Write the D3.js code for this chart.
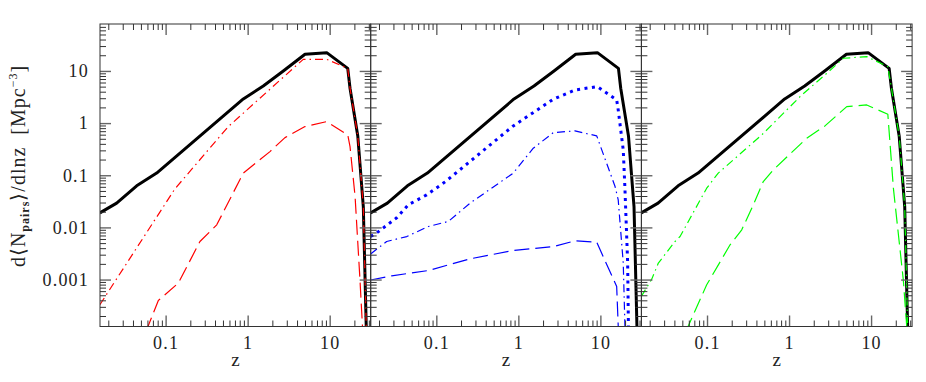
<!DOCTYPE html>
<html lang="en">
<head>
<meta charset="UTF-8">
<title>Pair counts per dlnz</title>
<script src="https://cdnjs.cloudflare.com/ajax/libs/d3/7.8.5/d3.min.js"></script>
<style>
    body { margin: 0; background: #fff; }
    svg text { font-family: "Liberation Serif", "Times New Roman", serif; fill: #222; }
</style>
</head>
<body>
<div id="chart"></div>
<script>
// values (z, d<Npairs>/dlnz)
const zTotal = [0.0158, 0.0253, 0.0444, 0.0778, 0.885, 1.55, 2.72, 5.0, 9.2, 16.6, 17.7, 22.0, 25.7, 28.0];
const nTotal = [0.019, 0.0292, 0.0627, 0.110, 2.90, 5.15, 10, 20.9, 22.4, 11.2, 4.66, 0.568, 0.0251, 0.0001];

const zRedDashDot = [0.0158, 0.130, 0.581, 4.76, 9.2, 16.6, 17.7, 22.0, 25.7, 28.0];
const nRedDashDot = [0.00033, 0.055, 0.857, 16.7, 16.7, 11.2, 4.66, 0.568, 0.0251, 0.0001];
const zRedDash = [0.0575, 0.0815, 0.143, 0.262, 0.420, 0.885, 1.87, 2.85, 5.0, 9.2, 16.6, 17.7, 20.4, 23.4, 25.3];
const nRedDash = [0.0001, 0.000397, 0.000857, 0.00537, 0.0112, 0.110, 0.284, 0.527, 0.857, 1.07, 0.594, 0.354, 0.0391, 0.00099, 0.0001];

const zBlueDot = [0.0158, 0.0188, 0.0329, 0.0455, 0.0763, 0.128, 0.867, 2.67, 4.91, 9.17, 15.8, 16.5, 19.0, 19.9, 21.5, 22.0];
const nBlueDot = [0.0067, 0.00787, 0.0153, 0.0271, 0.0421, 0.0747, 0.883, 2.87, 4.32, 5.0, 2.78, 1.79, 0.306, 0.0573, 0.0021, 0.0001];
const zBlueDashDot = [0.0158, 0.0248, 0.0436, 0.0798, 0.140, 0.258, 0.867, 1.52, 2.67, 4.91, 9.02, 15.1, 16.5, 19.0, 20.0];
const nBlueDashDot = [0.0031, 0.00537, 0.00668, 0.0104, 0.0130, 0.0292, 0.110, 0.330, 0.657, 0.708, 0.568, 0.0607, 0.0337, 0.00207, 0.0001];
const zBlueDash = [0.0158, 0.0286, 0.0798, 0.258, 0.867, 2.67, 4.91, 9.02, 12.5, 15.8, 16.6];
const nBlueDash = [0.00098, 0.00118, 0.00149, 0.0025, 0.0036, 0.0043, 0.00553, 0.00522, 0.00166, 0.000736, 0.0001];

const zGreenDashDot = [0.0158, 0.0212, 0.0255, 0.0407, 0.0469, 0.0592, 0.0991, 0.137, 0.465, 1.43, 2.74, 4.58, 8.85, 16.0, 17.7, 22.0, 25.7, 28.0];
const nGreenDashDot = [0.000474, 0.00102, 0.00207, 0.00537, 0.00668, 0.0130, 0.0565, 0.110, 0.594, 3.47, 8.37, 17.5, 18.8, 12.1, 4.66, 0.568, 0.0251, 0.0001];
const zGreenDash = [0.055, 0.0991, 0.191, 0.265, 0.367, 0.485, 0.643, 1.64, 2.74, 5.05, 8.85, 16.0, 18.7, 24.7, 27.5];
const nGreenDash = [0.0001, 0.000794, 0.00464, 0.0090, 0.0271, 0.0757, 0.127, 0.513, 0.883, 2.07, 2.23, 1.48, 0.0565, 0.00099, 0.0001];

const xTickLabels = ["0.1", "1", "10"];
const yTickLabels = ["10", "1", "0.1", "0.01", "0.001"];

const width = 926, height = 382;
const marginLeft = 100, marginTop = 24;
const panelW = 270.7, panelH = 302.5;
const majorLen = 11, minorLen = 6;

const pairs = (zs, ns) => zs.map((z, i) => [z, ns[i]]);

const panels = [
    [
        { data: pairs(zTotal, nTotal), color: "#000", width: 3, dash: null },
        { data: pairs(zRedDashDot, nRedDashDot), color: "#ff0000", width: 1.2, dash: "8,4,1.5,4" },
        { data: pairs(zRedDash, nRedDash), color: "#ff0000", width: 1.2, dash: "15,6" }
    ],
    [
        { data: pairs(zTotal, nTotal), color: "#000", width: 3, dash: null },
        { data: pairs(zBlueDot, nBlueDot), color: "#0000ff", width: 3, dash: "3,4.5" },
        { data: pairs(zBlueDashDot, nBlueDashDot), color: "#0000ff", width: 1.2, dash: "8,4,1.5,4" },
        { data: pairs(zBlueDash, nBlueDash), color: "#0000ff", width: 1.2, dash: "15,6" }
    ],
    [
        { data: pairs(zTotal, nTotal), color: "#000", width: 3, dash: null },
        { data: pairs(zGreenDashDot, nGreenDashDot), color: "#00ff00", width: 1.2, dash: "8,4,1.5,4" },
        { data: pairs(zGreenDash, nGreenDash), color: "#00ff00", width: 1.2, dash: "15,6" }
    ]
];

const x = d3.scaleLog().domain([Math.pow(10, -1.8), Math.pow(10, 1.5)]).range([0, panelW]);
const y = d3.scaleLog().domain([Math.pow(10, -3.9), Math.pow(10, 1.9)]).range([panelH, 0]);

// minor tick values (2..9 per decade) inside the domains
const minorVals = (lo, hi, dom) => {
    const out = [];
    for (let e = lo; e <= hi; e++)
        for (let m = 2; m <= 9; m++) {
            const v = m * Math.pow(10, e);
            if (v > dom[0] && v < dom[1]) out.push(v);
        }
    return out;
};
const xMinor = minorVals(-2, 1, x.domain());
const yMinor = minorVals(-4, 1, y.domain());
const xMajor = xTickLabels.map(Number);
const yMajor = yTickLabels.map(Number).concat([0.0001]).filter(v => v > y.domain()[0]);

const svg = d3.select("#chart").append("svg")
    .attr("width", width)
    .attr("height", height);

const line = d3.line().x(d => x(d[0])).y(d => y(d[1]));

function styleAxis(g, major) {
    g.select(".domain").remove();
    g.selectAll(".tick line")
        .attr("stroke", major ? "#666" : "#333")
        .attr("stroke-width", major ? 1.4 : 1);
}

function styleLabels(g) {
    g.selectAll("text")
        .attr("font-family", "Liberation Serif, serif")
        .attr("font-size", 18)
        .attr("letter-spacing", 1.2)
        .attr("fill", "#222");
}

panels.forEach((series, i) => {
    const g = svg.append("g")
        .attr("transform", `translate(${marginLeft + i * panelW},${marginTop})`);

    g.append("clipPath").attr("id", "clip" + i)
        .append("rect").attr("width", panelW).attr("height", panelH);

    const curves = g.append("g").attr("clip-path", `url(#clip${i})`);
    series.forEach(s => {
        curves.append("path")
            .attr("d", line(s.data))
            .attr("fill", "none")
            .attr("stroke", s.color)
            .attr("stroke-width", s.width)
            .attr("stroke-dasharray", s.dash)
            .attr("stroke-linejoin", "round");
    });

    // x ticks, bottom + top, pointing inward
    g.append("g").attr("transform", `translate(0,${panelH})`)
        .call(d3.axisBottom(x).tickValues(xMinor).tickSize(-minorLen).tickSizeOuter(0).tickFormat(""))
        .call(a => styleAxis(a, false));
    g.append("g").attr("transform", `translate(0,${panelH})`)
        .call(d3.axisBottom(x).tickValues(xMajor).tickSize(-majorLen).tickSizeOuter(0)
            .tickPadding(10).tickFormat((d, k) => xTickLabels[k]))
        .call(a => styleAxis(a, true))
        .call(styleLabels);
    g.append("g")
        .call(d3.axisTop(x).tickValues(xMinor).tickSize(-minorLen).tickSizeOuter(0).tickFormat(""))
        .call(a => styleAxis(a, false));
    g.append("g")
        .call(d3.axisTop(x).tickValues(xMajor).tickSize(-majorLen).tickSizeOuter(0).tickFormat(""))
        .call(a => styleAxis(a, true));

    // y ticks, left + right
    g.append("g")
        .call(d3.axisLeft(y).tickValues(yMinor).tickSize(-minorLen).tickSizeOuter(0).tickFormat(""))
        .call(a => styleAxis(a, false));
    g.append("g")
        .call(d3.axisLeft(y).tickValues(yMajor).tickSize(-majorLen).tickSizeOuter(0).tickPadding(11)
            .tickFormat(d => (i === 0 && yTickLabels.includes(String(d))) ? String(d) : ""))
        .call(a => styleAxis(a, true))
        .call(styleLabels);
    g.append("g").attr("transform", `translate(${panelW},0)`)
        .call(d3.axisRight(y).tickValues(yMinor).tickSize(-minorLen).tickSizeOuter(0).tickFormat(""))
        .call(a => styleAxis(a, false));
    g.append("g").attr("transform", `translate(${panelW},0)`)
        .call(d3.axisRight(y).tickValues(yMajor).tickSize(-majorLen).tickSizeOuter(0).tickFormat(""))
        .call(a => styleAxis(a, true));

    g.append("rect")
        .attr("width", panelW).attr("height", panelH)
        .attr("fill", "none").attr("stroke", "#333").attr("stroke-width", 1);

    g.append("text")
        .attr("x", panelW / 2)
        .attr("y", 365.5 - marginTop)
        .attr("text-anchor", "middle")
        .attr("font-size", 19)
        .text("z");
});

// y axis title
const yt = svg.append("text")
    .attr("transform", "translate(25,166) rotate(-90)")
    .attr("text-anchor", "middle")
    .attr("font-size", 20)
    .attr("letter-spacing", 1);
yt.append("tspan").text("d\u27E8N");
yt.append("tspan").attr("dy", 4).attr("font-size", 12).attr("font-weight", "bold").text("pairs");
yt.append("tspan").attr("dy", -4).text("\u27E9/dlnz\u00A0\u00A0[Mpc");
yt.append("tspan").attr("dy", -8).attr("font-size", 12).text("\u22123");
yt.append("tspan").attr("dy", 8).text("]");
</script>
</body>
</html>
